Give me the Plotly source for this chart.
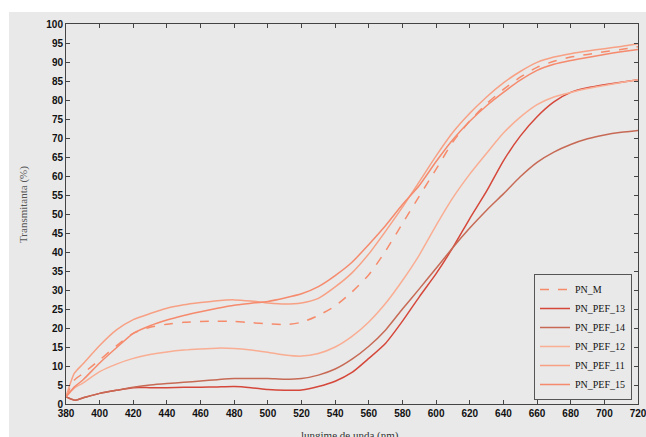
import plotly.graph_objects as go

wavelength = [380, 385, 390, 400, 410, 420, 430, 440, 450, 460, 470, 480, 490, 500,
              510, 520, 530, 540, 550, 560, 570, 580, 590, 600, 610, 620, 630, 640,
              650, 660, 670, 680, 690, 700, 710, 720]

pn_m = [1.9, 6.3, 8.0, 11.6, 15.3, 18.6, 20.2, 21.0, 21.5, 21.7, 21.8, 21.7, 21.4, 21.1,
        20.9, 21.5, 23.3, 25.8, 29.5, 34.0, 40.3, 47.5, 54.7, 61.8, 69.0, 74.5, 79.0, 82.8,
        86.0, 88.6, 90.2, 91.3, 92.0, 92.7, 93.3, 94.0]
pn_pef_13 = [1.9, 1.0, 1.6, 2.8, 3.6, 4.3, 4.3, 4.3, 4.4, 4.4, 4.5, 4.6, 4.3, 3.8,
             3.6, 3.7, 4.6, 6.0, 8.3, 12.0, 16.0, 21.8, 28.2, 34.3, 41.2, 48.8, 56.0, 64.0,
             70.5, 75.6, 79.5, 82.0, 83.2, 84.0, 84.7, 85.3]
pn_pef_14 = [1.9, 1.0, 1.6, 2.8, 3.6, 4.4, 5.0, 5.4, 5.7, 6.05, 6.4, 6.7, 6.7, 6.7,
             6.5, 6.7, 7.6, 9.2, 11.8, 15.2, 19.5, 25.0, 30.3, 35.7, 41.2, 46.3, 51.0, 55.3,
             59.8, 63.6, 66.3, 68.3, 69.8, 70.8, 71.5, 72.0]
pn_pef_12 = [1.9, 4.2, 5.5, 8.5, 10.5, 12.0, 13.0, 13.7, 14.2, 14.5, 14.7, 14.6, 14.2, 13.6,
             12.9, 12.6, 13.3, 15.0, 17.8, 21.6, 26.5, 32.5, 39.2, 47.0, 54.3, 60.5, 66.0, 71.3,
             75.5, 78.8, 80.8, 82.0, 83.0, 83.8, 84.6, 85.3]
pn_pef_11 = [1.9, 8.1, 10.5, 15.4, 19.5, 22.2, 23.8, 25.2, 26.1, 26.7, 27.2, 27.4, 27.1, 26.6,
             26.3, 26.6, 27.8, 30.8, 34.5, 39.5, 45.5, 51.8, 58.5, 65.3, 71.5, 76.5, 80.8, 84.5,
             87.5, 89.9, 91.3, 92.2, 92.9, 93.5, 94.1, 94.8]
pn_pef_15 = [1.9, 4.5, 6.3, 10.8, 14.8, 18.6, 20.6, 22.1, 23.3, 24.3, 25.2, 26.0, 26.5, 27.0,
             27.9, 29.0, 30.9, 33.8, 37.3, 42.0, 47.0, 52.5, 57.5, 63.8, 69.6, 74.4, 78.5, 82.0,
             85.2, 87.8, 89.4, 90.4, 91.2, 92.0, 92.7, 93.3]

x_ticks = list(range(380, 721, 20))
y_ticks = list(range(0, 101, 5))

series = [
    ("PN_M", pn_m, "#f68b6c", "dash"),
    ("PN_PEF_13", pn_pef_13, "#d5473a", "solid"),
    ("PN_PEF_14", pn_pef_14, "#c76a55", "solid"),
    ("PN_PEF_12", pn_pef_12, "#f9ad93", "solid"),
    ("PN_PEF_11", pn_pef_11, "#f7a084", "solid"),
    ("PN_PEF_15", pn_pef_15, "#f58a6d", "solid"),
]

fig = go.Figure()
for name, vals, color, dash in series:
    fig.add_trace(go.Scatter(
        x=wavelength, y=vals, name=name, mode="lines",
        line=dict(color=color, width=1.5, dash=dash, shape="spline", smoothing=0.6),
    ))

GREY = "#e9e9e9"
W, H = 646, 437
L, R, T, B = 66, 8, 24, 33
pw, ph = W - L - R, H - T - B

def px(xp):  # page pixel x -> paper x
    return (xp - L) / pw

def py(yp):  # page pixel y -> paper y
    return (H - B - yp) / ph

axis_common = dict(
    showline=True, linecolor="#444444", linewidth=1, mirror="ticks",
    ticks="inside", ticklen=4, tickcolor="#444444", showgrid=False, zeroline=False,
    ticklabeloverflow="allow", automargin=False,
    tickfont=dict(family="Liberation Sans, Arial", size=10, color="#111111", weight="bold"),
)

fig.update_layout(
    width=W, height=H,
    margin=dict(l=L, r=R, t=T, b=B, pad=0, autoexpand=False),
    paper_bgcolor=GREY, plot_bgcolor=GREY,
    xaxis=dict(range=[380, 720], tickvals=x_ticks, **axis_common),
    yaxis=dict(range=[0, 100], tickvals=y_ticks, **axis_common),
    showlegend=True,
    legend=dict(
        x=px(632), y=py(400), xanchor="right", yanchor="bottom",
        bgcolor=GREY, bordercolor="#555555", borderwidth=1,
        font=dict(family="Liberation Serif, Times New Roman", size=10, color="#111111"),
        tracegroupgap=0, itemwidth=30,
    ),
    shapes=[
        dict(type="rect", xref="paper", yref="paper", x0=px(0), x1=px(W), y0=py(12), y1=py(0),
             fillcolor="white", line=dict(width=0), layer="below"),
        dict(type="rect", xref="paper", yref="paper", x0=px(0), x1=px(9), y0=py(H), y1=py(0),
             fillcolor="white", line=dict(width=0), layer="below"),
    ],
    annotations=[
        dict(text="Transmitanta (%)", xref="paper", yref="paper", x=px(23), y=py(205),
             textangle=-90, showarrow=False, xanchor="center", yanchor="middle",
             font=dict(family="Liberation Serif, Times New Roman", size=11, color="#555555")),
        dict(text="lungime de unda (nm)", xref="paper", yref="paper", x=px(350), y=py(427),
             showarrow=False, xanchor="center", yanchor="top",
             font=dict(family="Liberation Serif, Times New Roman", size=11, color="#333333")),
    ],
)

fig.write_html(
    "out.html",
    config={"displayModeBar": False},
    post_script="document.body.style.margin='0';document.documentElement.style.overflow='hidden';",
)
